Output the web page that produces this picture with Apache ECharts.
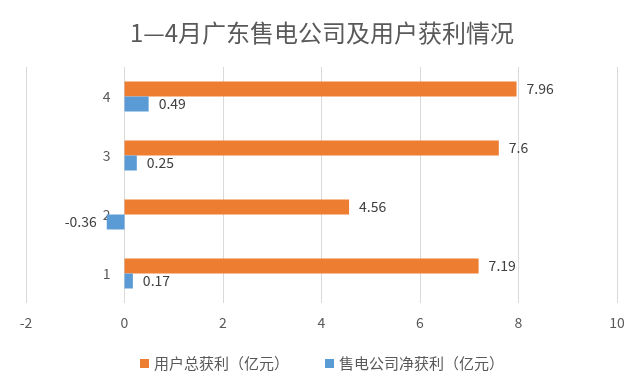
<!DOCTYPE html>
<html>
<head>
<meta charset="utf-8">
<script src="https://cdn.jsdelivr.net/npm/echarts@6/dist/echarts.min.js"></script>
<style>html,body{margin:0;padding:0;background:#fff;}#c{width:644px;height:385px;}</style>
</head>
<body>
<div id="c"></div>
<script>
var titleText = '1—4月广东售电公司及用户获利情况';
var categories = ['1', '2', '3', '4'];
var seriesNames = ['用户总获利（亿元）', '售电公司净获利（亿元）'];
var userProfit = [7.19, 4.56, 7.6, 7.96];
var companyProfit = [0.17, -0.36, 0.25, 0.49];
var xMin = -2, xMax = 10, xInterval = 2;

var FONT = '"Noto Sans CJK SC", "Noto Sans", sans-serif';
var GRID_LEFT = 26;
var chart = echarts.init(document.getElementById('c'), null, {renderer: 'canvas'});

function labelData(vals) {
  return vals.map(function (v) {
    return v < 0 ? {value: v, label: {position: 'left'}} : {value: v};
  });
}

chart.setOption({
  backgroundColor: '#ffffff',
  animation: false,
  title: {
    text: titleText,
    left: 'center',
    top: 16,
    textStyle: {fontFamily: FONT, fontSize: 24, fontWeight: 'normal', color: '#595959'}
  },
  legend: {
    data: seriesNames,
    top: 351,
    left: 'center',
    icon: 'rect',
    itemWidth: 9,
    itemHeight: 9,
    itemGap: 36,
    textStyle: {fontFamily: FONT, fontSize: 15, color: '#595959'}
  },
  grid: {left: GRID_LEFT, right: 27, top: 67, bottom: 82, containLabel: false},
  xAxis: {
    type: 'value',
    min: xMin,
    max: xMax,
    interval: xInterval,
    axisLine: {show: false},
    axisTick: {show: false},
    splitLine: {show: true, lineStyle: {color: '#d9d9d9', width: 1}},
    axisLabel: {fontFamily: FONT, fontSize: 14, color: '#595959', margin: 13}
  },
  yAxis: {
    type: 'category',
    data: categories,
    axisLine: {show: false},
    axisTick: {show: false},
    splitLine: {show: false},
    axisLabel: {fontFamily: FONT, fontSize: 14, color: '#595959', margin: 14}
  },
  series: [
    {
      name: seriesNames[0],
      type: 'bar',
      data: userProfit,
      barWidth: 15,
      barGap: '0%',
      itemStyle: {color: '#ED7D31'},
      label: {show: true, position: 'right', distance: 10, fontFamily: FONT, fontSize: 14, color: '#404040'}
    },
    {
      name: seriesNames[1],
      type: 'bar',
      data: labelData(companyProfit),
      barWidth: 15,
      barGap: '0%',
      itemStyle: {color: '#5B9BD5'},
      label: {show: true, position: 'right', distance: 10, fontFamily: FONT, fontSize: 14, color: '#404040'}
    }
  ]
});

// place the category axis at x = 0 of the value axis (as in the reference)
var zeroX = chart.convertToPixel({xAxisIndex: 0}, 0);
chart.setOption({yAxis: {offset: -(zeroX - GRID_LEFT)}});
</script>
</body>
</html>
